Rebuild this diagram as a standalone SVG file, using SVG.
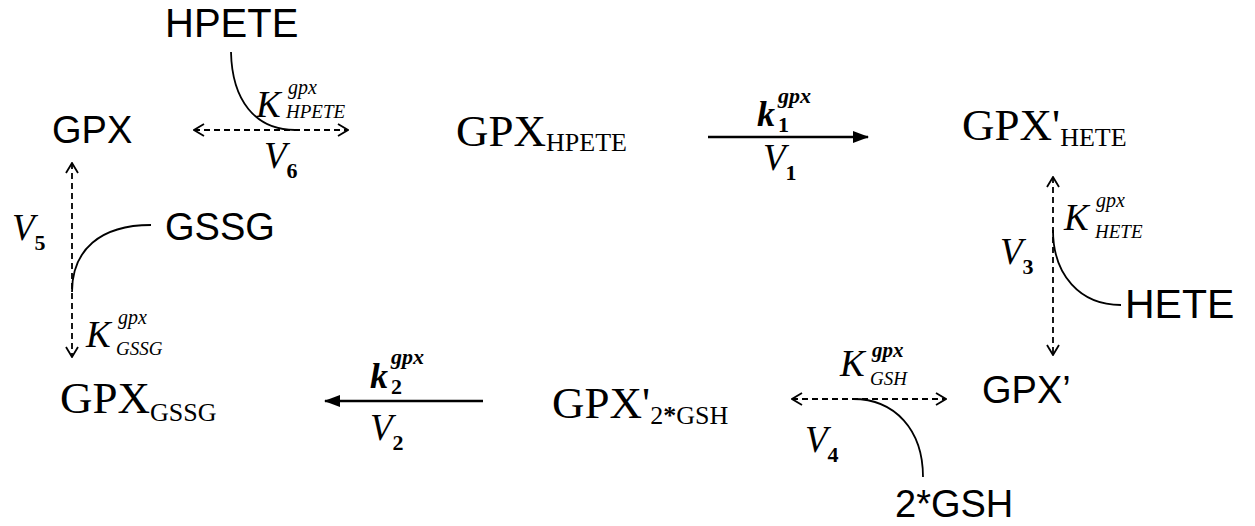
<svg xmlns="http://www.w3.org/2000/svg" width="1255" height="526" viewBox="0 0 1255 526">
<style>
.sans{font-family:"Liberation Sans",Arial,sans-serif;fill:#000}
.serif{font-family:"Liberation Serif","Times New Roman",serif;fill:#000}
.it{font-style:italic}
.bd{font-weight:bold}
.dash{fill:none;stroke:#000;stroke-width:1.8;stroke-dasharray:6,4}
.solid{fill:none;stroke:#000;stroke-width:2.6}
.curve{fill:none;stroke:#000;stroke-width:1.8}
</style>
<defs>
<marker id="open" viewBox="0 0 12 14" refX="11" refY="7" markerWidth="12" markerHeight="14" markerUnits="userSpaceOnUse" orient="auto-start-reverse">
<path d="M1,1 L11,7 L1,13" fill="none" stroke="#000" stroke-width="1.8"/>
</marker>
<marker id="filled" viewBox="0 0 16 12" refX="15" refY="6" markerWidth="16" markerHeight="12" markerUnits="userSpaceOnUse" orient="auto">
<path d="M0,0 L16,6 L0,12 z" fill="#000"/>
</marker>
</defs>
<rect width="1255" height="526" fill="#fff"/>

<g id="connectors">
<line class="dash" x1="194" y1="130" x2="348" y2="130" marker-start="url(#open)" marker-end="url(#open)"/>
<path class="curve" d="M231,52 C232,100 255,130 295,130"/>
<line class="solid" x1="708" y1="137" x2="868" y2="137" marker-end="url(#filled)"/>
<line class="dash" x1="1053" y1="177" x2="1053" y2="355" marker-start="url(#open)" marker-end="url(#open)"/>
<path class="curve" d="M1053,230 C1053,275 1080,305 1121,305"/>
<line class="dash" x1="792" y1="399" x2="946" y2="399" marker-start="url(#open)" marker-end="url(#open)"/>
<path class="curve" d="M853,399 C895,399 923,430 923,477"/>
<line class="solid" x1="483" y1="401" x2="325" y2="401" marker-end="url(#filled)"/>
<line class="dash" x1="72" y1="163" x2="72" y2="357" marker-start="url(#open)" marker-end="url(#open)"/>
<path class="curve" d="M72,292 C72,250 100,225 151,225"/>
</g>

<g id="n-hpete"><text class="sans" x="165" y="37" font-size="40">HPETE</text></g>
<g id="n-gpx"><text class="sans" x="52" y="143" font-size="38">GPX</text></g>
<g id="n-gpx-hpete"><text class="serif" x="456" y="146" font-size="45">GPX<tspan font-size="26" dy="5">HPETE</tspan></text></g>
<g id="n-gpxp-hete"><text class="serif" x="962" y="140" font-size="45">GPX'<tspan font-size="26" dy="6">HETE</tspan></text></g>
<g id="n-hete"><text class="sans" x="1125" y="318" font-size="41">HETE</text></g>
<g id="n-gpxp"><text class="sans" x="982" y="403" font-size="38">GPX’</text></g>
<g id="n-2gsh"><text class="sans" x="895" y="517" font-size="38">2*GSH</text></g>
<g id="n-gpxp-2gsh"><text class="serif" x="552" y="418" font-size="45">GPX'<tspan font-size="26" dy="6">2</tspan><tspan font-size="26" class="bd">*</tspan><tspan font-size="26">GSH</tspan></text></g>
<g id="n-gpx-gssg"><text class="serif" x="60" y="413" font-size="45">GPX<tspan font-size="26" dy="8">GSSG</tspan></text></g>
<g id="n-gssg"><text class="sans" x="165" y="240" font-size="38">GSSG</text></g>

<g id="labels">
<text class="serif it" x="256" y="117" font-size="37">K</text>
<text class="serif it" x="288" y="94" font-size="20">gpx</text>
<text class="serif it" x="286" y="118" font-size="19">HPETE</text>
<text class="serif it" x="264" y="168" font-size="37">V<tspan class="bd" font-style="normal" font-size="22" dy="10">6</tspan></text>

<text class="serif it bd" x="757" y="126" font-size="36">k</text>
<text class="serif bd" x="778" y="132" font-size="22">1</text>
<text class="serif it bd" x="778" y="103" font-size="22">gpx</text>
<text class="serif it" x="763" y="170" font-size="37">V<tspan class="bd" font-style="normal" font-size="22" dy="10">1</tspan></text>

<text class="serif it" x="1064" y="230" font-size="37">K</text>
<text class="serif it" x="1096" y="207" font-size="20">gpx</text>
<text class="serif it" x="1095" y="238" font-size="19">HETE</text>
<text class="serif it" x="1000" y="264" font-size="37">V<tspan class="bd" font-style="normal" font-size="22" dy="10">3</tspan></text>

<text class="serif it" x="840" y="376" font-size="37">K</text>
<text class="serif it bd" x="872" y="357" font-size="21">gpx</text>
<text class="serif it" x="870" y="385" font-size="19">GSH</text>
<text class="serif it" x="805" y="452" font-size="37">V<tspan class="bd" font-style="normal" font-size="22" dy="10">4</tspan></text>

<text class="serif it bd" x="370" y="388" font-size="36">k</text>
<text class="serif bd" x="391" y="394" font-size="22">2</text>
<text class="serif it bd" x="391" y="364" font-size="22">gpx</text>
<text class="serif it" x="370" y="440" font-size="37">V<tspan class="bd" font-style="normal" font-size="22" dy="10">2</tspan></text>

<text class="serif it" x="86" y="347" font-size="37">K</text>
<text class="serif it" x="118" y="324" font-size="20">gpx</text>
<text class="serif it" x="116" y="355" font-size="19">GSSG</text>
<text class="serif it" x="12" y="240" font-size="37">V<tspan class="bd" font-style="normal" font-size="22" dy="10">5</tspan></text>
</g>
</svg>
